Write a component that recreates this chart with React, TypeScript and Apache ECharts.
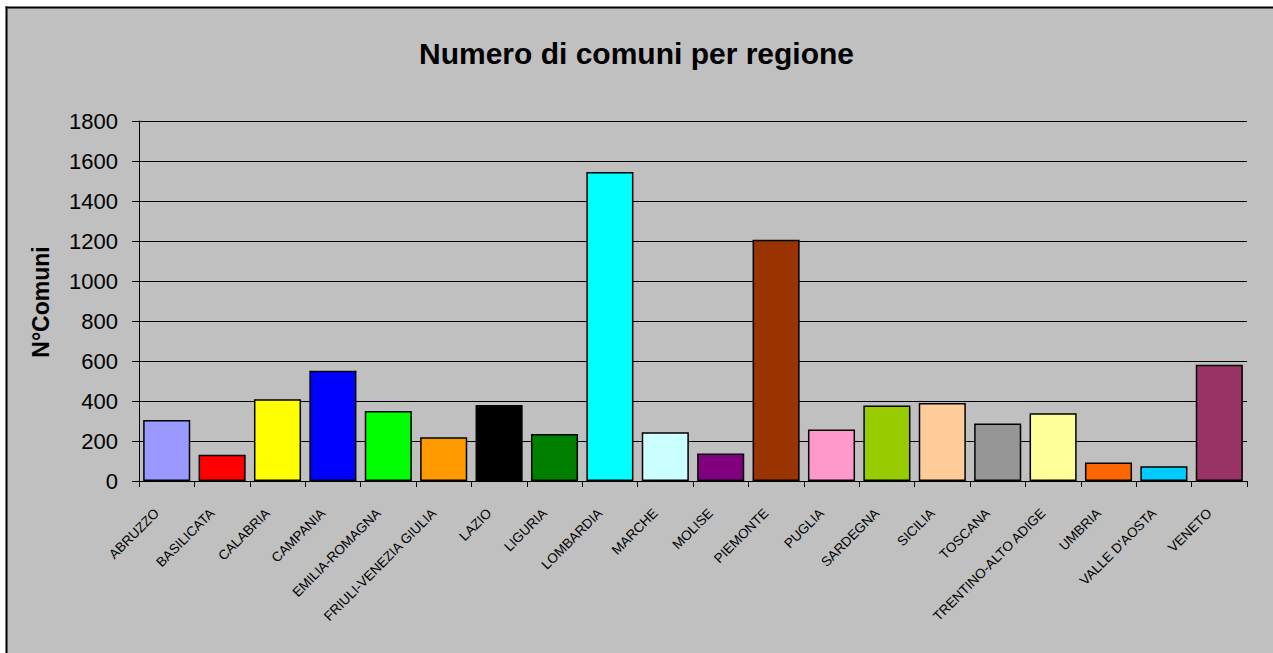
import React, { useEffect, useRef } from "react";
import * as echarts from "echarts";

const categories = [
  "ABRUZZO", "BASILICATA", "CALABRIA", "CAMPANIA", "EMILIA-ROMAGNA",
  "FRIULI-VENEZIA GIULIA", "LAZIO", "LIGURIA", "LOMBARDIA", "MARCHE",
  "MOLISE", "PIEMONTE", "PUGLIA", "SARDEGNA", "SICILIA", "TOSCANA",
  "TRENTINO-ALTO ADIGE", "UMBRIA", "VALLE D'AOSTA", "VENETO",
];
const values = [
  305, 131, 409, 551, 350, 219, 380, 235, 1545, 244,
  138, 1206, 258, 377, 390, 287, 339, 93, 74, 581,
];
const colors = [
  "#9999ff", "#ff0000", "#ffff00", "#0000ff", "#00ff00",
  "#ff9900", "#000000", "#008000", "#00ffff", "#ccffff",
  "#800080", "#993300", "#ff99cc", "#99cc00", "#ffcc99",
  "#969696", "#ffff99", "#ff6600", "#00ccff", "#993366",
];
const yTicks = { min: 0, max: 1800, interval: 200 };
const title = "Numero di comuni per regione";
const yName = "N°Comuni";

const FONT = "Arial, 'Liberation Sans', sans-serif";

export default function App() {
  const ref = useRef<HTMLDivElement>(null);
  useEffect(() => {
    if (!ref.current) return;
    const chart = echarts.init(ref.current, null, { renderer: "svg" });
    chart.setOption({
      animation: false,
      backgroundColor: "#ffffff",
      textStyle: { fontFamily: FONT },
      title: {
        text: title,
        left: "center",
        top: 33,
        textStyle: { fontFamily: FONT, fontSize: 30, fontWeight: "bold", color: "#000" },
      },
      graphic: [
        {
          type: "rect",
          z: -10,
          silent: true,
          shape: { x: 7, y: 8, width: 1400, height: 800 },
          style: { fill: "#c0c0c0" },
        },
        {
          type: "line",
          z: -9,
          silent: true,
          shape: { x1: 5.5, y1: 7.5, x2: 1400, y2: 7.5 },
          style: { stroke: "#000", lineWidth: 2 },
        },
        {
          type: "line",
          z: -9,
          silent: true,
          shape: { x1: 6.5, y1: 6.5, x2: 6.5, y2: 800 },
          style: { stroke: "#000", lineWidth: 2 },
        },
        {
          type: "text",
          z: 10,
          x: 41,
          y: 302,
          rotation: Math.PI / 2,
          style: {
            text: yName,
            font: `bold 23px ${FONT}`,
            fill: "#000",
            align: "center",
            verticalAlign: "middle",
          },
        },
      ],
      grid: { left: 139, top: 121, right: 26, bottom: 172 },
      xAxis: {
        type: "category",
        data: categories,
        axisLine: { lineStyle: { color: "#000", width: 1 } },
        axisTick: { show: true, alignWithLabel: false, length: 6, lineStyle: { color: "#000" } },
        axisLabel: {
          interval: 0,
          rotate: 45,
          margin: 20,
          padding: [0, 14, 0, 0],
          fontSize: 13.5,
          fontFamily: FONT,
          color: "#000",
        },
      },
      yAxis: {
        type: "value",
        min: yTicks.min,
        max: yTicks.max,
        interval: yTicks.interval,
        axisLine: { show: true, lineStyle: { color: "#000", width: 1 } },
        axisTick: { show: true, length: 7, lineStyle: { color: "#000" } },
        axisLabel: {
          fontSize: 22,
          fontFamily: FONT,
          color: "#000",
          margin: 21,
          formatter: (v: number) => String(v),
        },
        splitLine: { show: true, lineStyle: { color: "#000", width: 1 } },
      },
      series: [
        {
          type: "bar",
          data: values.map((v, i) => ({
            value: v,
            itemStyle: { color: colors[i] },
          })),
          barCategoryGap: "15%",
          itemStyle: { borderColor: "#000", borderWidth: 1.5 },
        },
      ],
    });
    return () => chart.dispose();
  }, []);
  return (
    <div
      ref={ref}
      style={{ position: "absolute", left: 0, top: 0, width: 1273, height: 653 }}
    />
  );
}
